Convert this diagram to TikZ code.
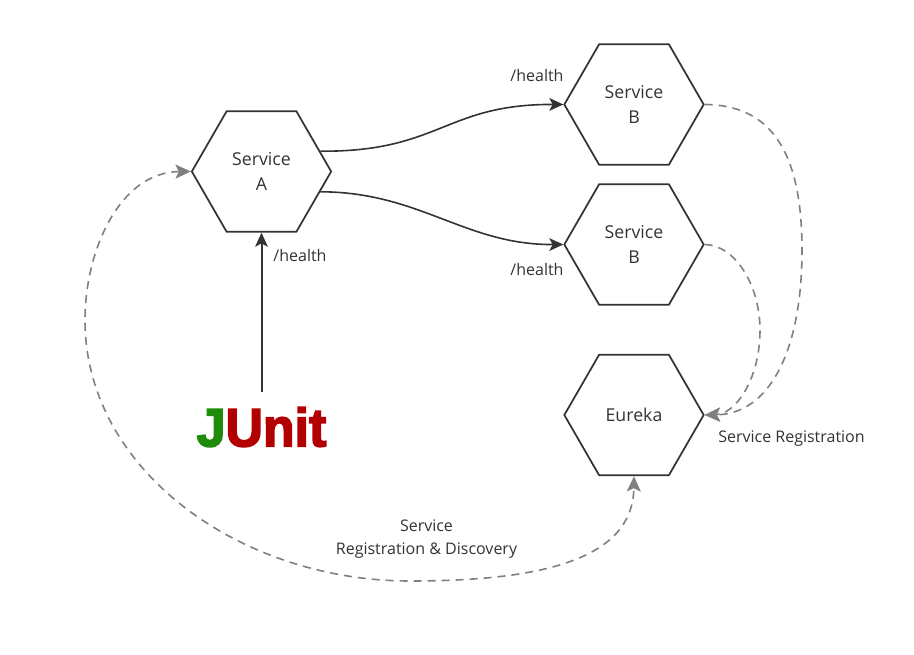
\documentclass[tikz,border=0pt]{standalone}
\usepackage{fontspec}
\setmainfont{Open Sans}
\newfontfamily\logofont{Liberation Sans Bold}[FakeBold=3, FakeStretch=0.96]
\usetikzlibrary{arrows.meta, positioning, shapes.geometric}
\definecolor{inkdark}{RGB}{51,51,51}
\definecolor{dashgray}{RGB}{128,128,128}
\definecolor{junitgreen}{RGB}{30,140,10}
\definecolor{junitred}{RGB}{178,0,0}
\tikzset{
    flowtip/.tip={Stealth[length=10.5pt, width=9.5pt, inset=2.5pt]},
    regtip/.tip={Stealth[length=11.5pt, width=10.5pt, inset=2.5pt]}
}
\begin{document}
\begin{tikzpicture}[
        x=0.75pt, y=-0.75pt,
        hexbox/.style={regular polygon, regular polygon sides=6, draw=inkdark, line width=1.3pt, inner sep=0pt, minimum size=104.5pt, align=center, text=inkdark, font=\fontsize{13.3}{18.7}\selectfont},
        textlabel/.style={inner sep=0pt, align=center, text=inkdark, font=\fontsize{12}{17.2}\selectfont},
        flowarrow/.style={-flowtip, line width=1.2pt, inkdark},
        regarrow/.style={-regtip, line width=1.2pt, dashgray, dash pattern=on 6pt off 4.5pt}
    ]
        \useasboundingbox (0,0) rectangle (914,655);

        \node[hexbox] (servicea) at (261.5,171.5) {Service\\A};
        \node[hexbox] (serviceb) at (634,104.5) {Service\\B};
        \node[hexbox] (servicec) at (634,244.5) {Service\\B};
        \node[hexbox] (eureka) at (634,415) {Eureka};
        \node[inner sep=0pt, font=\logofont\fontsize{40.5}{40.5}\selectfont, text height=29pt, text depth=0pt] (junit) at (261.5,427) {\textcolor{junitgreen}{J}\textcolor{junitred}{Unit}};
        \coordinate (junittop) at (261.5,392);

        \node[textlabel] (healthb) at (537,76) {/health};
        \node[textlabel] (healthc) at (537,270) {/health};
        \node[textlabel] (healtha) at (300,256) {/health};
        \node[textlabel] (reglabel) at (791.5,439) {Service Registration};
        \node[textlabel] (disclabel) at (426.5,539.5) {Service\\Registration \& Discovery};

        \draw[flowarrow, line width=1.5pt] (junittop) -- (servicea.south);
        \draw[flowarrow] (servicea.19) .. controls (440,152) and (445,104) .. (serviceb.west);
        \draw[flowarrow] (servicea.-19) .. controls (420,192) and (465,245) .. (servicec.west);
        % registration with eureka
        \draw[regarrow] (serviceb.east) .. controls (770,105) and (802,150) .. (802,250) .. controls (802,350) and (770,414) .. (eureka.east);
        \draw[regarrow] (servicec.east) .. controls (735,245) and (760,285) .. (760,330) .. controls (760,380) and (735,414) .. (eureka.east);
        \draw[regarrow, regtip-regtip] (servicea.west) .. controls (120,172) and (85,250) .. (85,320) .. controls (85,470) and (240,581) .. (410,581) .. controls (540,581) and (633,560) .. (eureka.south);
    \end{tikzpicture}
\end{document}
